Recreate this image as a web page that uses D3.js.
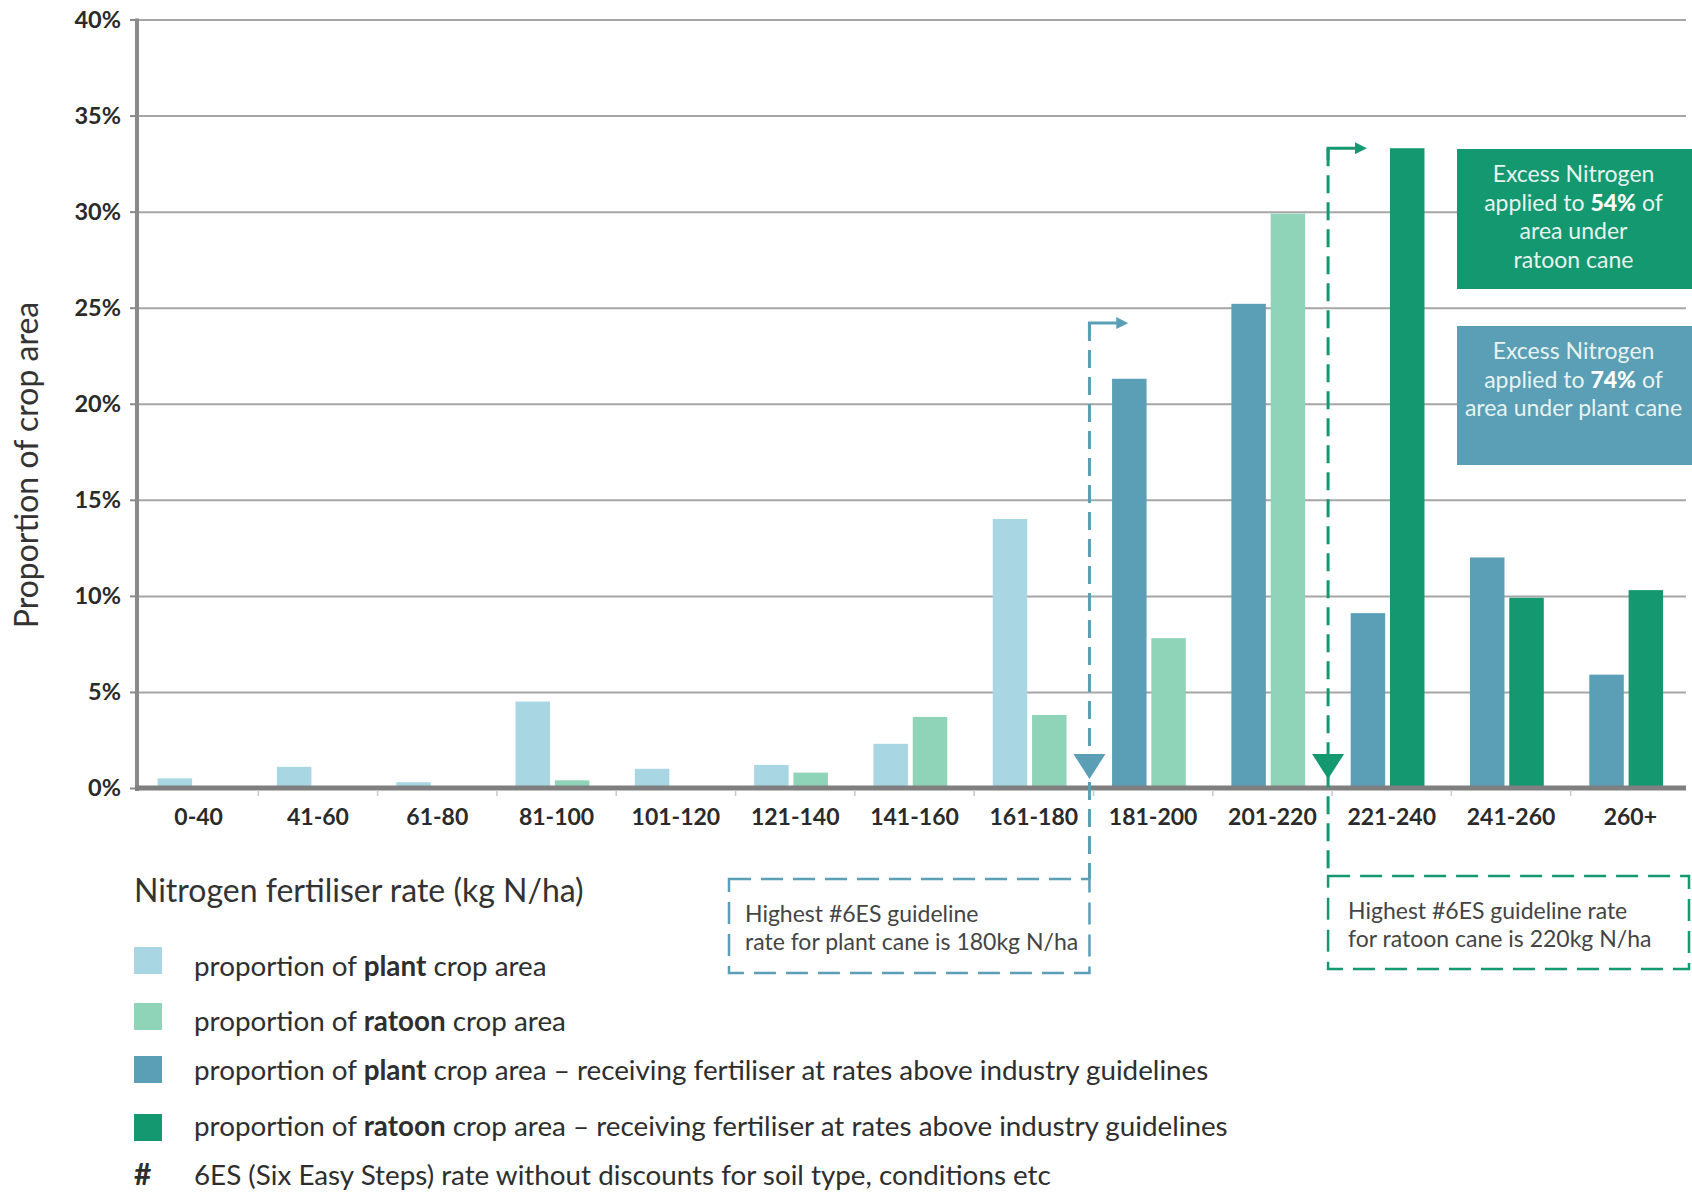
<!DOCTYPE html>
<html>
<head>
<meta charset="utf-8">
<script src="https://cdn.jsdelivr.net/npm/d3@7"></script>
<style>
  html, body { margin: 0; padding: 0; background: #fff; }
  svg { display: block; font-family: Lato, "Open Sans", sans-serif; }
</style>
</head>
<body>
<svg id="chart" width="1692" height="1194"></svg>
<script>
// Nitrogen fertiliser rate bands (kg N/ha)
const categories = ["0-40", "41-60", "61-80", "81-100", "101-120", "121-140", "141-160",
                    "161-180", "181-200", "201-220", "221-240", "241-260", "260+"];
// Proportion of crop area (%) in each band
const plantArea  = [0.5, 1.1, 0.3, 4.5, 1.0, 1.2, 2.3, 14.0, 21.3, 25.2, 9.1, 12.0, 5.9];
const ratoonArea = [0, 0, 0, 0.4, 0, 0.8, 3.7, 3.8, 7.8, 29.9, 33.3, 9.9, 10.3];
// Highest guideline band for each crop (bands after these receive excess N)
const plantLastGuidelineBand  = "161-180";
const ratoonLastGuidelineBand = "201-220";
// Level (%) at which each guideline marker line starts
const plantMarkerTop  = 24.2;
const ratoonMarkerTop = 33.3;
const yTicks = [0, 5, 10, 15, 20, 25, 30, 35, 40];

const colors = {
  plant: "#a9d6e3",
  ratoon: "#8fd4b9",
  plantAbove: "#5a9fb6",
  ratoonAbove: "#14986f"
};

const svg = d3.select("#chart");
const plotLeft = 137, bandLeft = 139, plotRight = 1690;
const plotTop = 19.5, plotBottom = 788;

const x = d3.scaleBand().domain(categories).range([bandLeft, plotRight]).paddingInner(0).paddingOuter(0);
const x1 = d3.scaleBand().domain(["plant", "ratoon"]).range([18.6, 92.4]).paddingInner(0.122).paddingOuter(0);
const y = d3.scaleLinear().domain([0, 40]).range([plotBottom, plotTop]);

const plantCut = categories.indexOf(plantLastGuidelineBand);
const ratoonCut = categories.indexOf(ratoonLastGuidelineBand);

// Gridlines
const grid = svg.append("g")
  .attr("transform", `translate(${plotLeft},0)`)
  .call(d3.axisLeft(y).tickValues(yTicks).tickSize(-(1686 - plotLeft)).tickFormat(""));
grid.select(".domain").remove();
grid.selectAll("line").attr("stroke", "#a6a6a6").attr("stroke-width", 2);

// Bars
const data = categories.map((c, i) => ({ c, i, plant: plantArea[i], ratoon: ratoonArea[i] }));
const groups = svg.append("g").selectAll("g").data(data).join("g")
  .attr("transform", d => `translate(${x(d.c)},0)`);
groups.append("rect")
  .attr("x", x1("plant")).attr("width", x1.bandwidth())
  .attr("y", d => y(d.plant)).attr("height", d => y(0) - y(d.plant))
  .attr("fill", d => d.i > plantCut ? colors.plantAbove : colors.plant);
groups.append("rect")
  .attr("x", x1("ratoon")).attr("width", x1.bandwidth())
  .attr("y", d => y(d.ratoon)).attr("height", d => y(0) - y(d.ratoon))
  .attr("fill", d => d.i > ratoonCut ? colors.ratoonAbove : colors.ratoon);

// Y axis
const yAxis = svg.append("g")
  .attr("transform", `translate(${plotLeft},0)`)
  .call(d3.axisLeft(y).tickValues(yTicks).tickSize(7).tickPadding(9).tickFormat(d => d + "%"));
yAxis.select(".domain").attr("stroke", "#8a8a8a").attr("stroke-width", 4)
  .attr("d", `M0,${plotTop - 1}V${plotBottom + 3}`);
yAxis.selectAll(".tick line").attr("stroke", "#8a8a8a").attr("stroke-width", 2);
yAxis.selectAll(".tick text")
  .attr("font-family", "Lato, sans-serif").attr("font-weight", "bold")
  .attr("font-size", 23.5).attr("fill", "#2a2a2a");

// X axis
const xAxis = svg.append("g")
  .attr("transform", `translate(0,${plotBottom})`)
  .call(d3.axisBottom(x).tickSize(0).tickPadding(21));
xAxis.select(".domain").attr("stroke", "#7f7f7f").attr("stroke-width", 5)
  .attr("d", `M${plotLeft - 2},0H${plotRight - 4}`);
xAxis.selectAll(".tick text")
  .attr("font-family", "Lato, sans-serif").attr("font-weight", "bold")
  .attr("font-size", 23).attr("fill", "#2a2a2a");
// small separators between bands
xAxis.append("g").selectAll("line").data(categories.slice(1)).join("line")
  .attr("x1", d => x(d)).attr("x2", d => x(d)).attr("y1", 2).attr("y2", 8)
  .attr("stroke", "#c8c8c8").attr("stroke-width", 1.5);

// Axis titles
svg.append("text")
  .attr("transform", `translate(38,465) rotate(-90)`)
  .attr("text-anchor", "middle")
  .attr("font-size", 32).attr("fill", "#333")
  .text("Proportion of crop area");
svg.append("text")
  .attr("x", 134).attr("y", 902)
  .attr("font-size", 32).attr("fill", "#333")
  .text("Nitrogen fertiliser rate (kg N/ha)");

// Guideline markers
const defs = svg.append("defs");
function marker(id, color) {
  defs.append("marker").attr("id", id)
    .attr("viewBox", "0 0 10 10").attr("refX", 1).attr("refY", 5)
    .attr("markerWidth", 4).attr("markerHeight", 4).attr("markerUnits", "strokeWidth")
    .attr("orient", "auto")
    .append("path").attr("d", "M0,0L10,5L0,10Z").attr("fill", color);
}
marker("arrowPlant", colors.plantAbove);
marker("arrowRatoon", colors.ratoonAbove);

const guideOffset = -4;
function guideline(cutIndex, topValue, color, markerId, box, textLines, textX) {
  const gx = x(categories[cutIndex + 1]) + guideOffset;
  const g = svg.append("g");
  const dash = "18,9";
  // vertical dashed line from the top elbow down to the note box
  g.append("line")
    .attr("x1", gx).attr("x2", gx)
    .attr("y1", y(topValue)).attr("y2", box.y)
    .attr("stroke", color).attr("stroke-width", 3).attr("stroke-dasharray", dash);
  // elbow pointing to the right
  g.append("path")
    .attr("d", `M${gx},${y(topValue) + 12}V${y(topValue)}H${gx + 28}`)
    .attr("fill", "none").attr("stroke", color).attr("stroke-width", 3)
    .attr("marker-end", `url(#${markerId})`);
  // downward arrowhead just above the axis
  const tip = y(0) - 9;
  g.append("path")
    .attr("d", `M${gx - 16},${tip - 25}L${gx + 16},${tip - 25}L${gx},${tip}Z`)
    .attr("fill", color);
  // dashed note box
  g.append("rect")
    .attr("x", box.x).attr("y", box.y).attr("width", box.w).attr("height", box.h)
    .attr("fill", "none").attr("stroke", color).attr("stroke-width", 2.5)
    .attr("stroke-dasharray", "22,10");
  const t = g.append("text").attr("font-size", 23).attr("fill", "#444");
  textLines.forEach((s, k) => {
    t.append("tspan").attr("x", textX).attr("y", box.y + 43 + k * 28).text(s);
  });
  return gx;
}

const gxPlant = x(categories[plantCut + 1]) + guideOffset;
const gxRatoon = x(categories[ratoonCut + 1]) + guideOffset;
guideline(plantCut, plantMarkerTop, colors.plantAbove, "arrowPlant",
  { x: 729, y: 879, w: gxPlant - 729, h: 94 },
  ["Highest #6ES guideline", "rate for plant cane is 180kg N/ha"], 745);
guideline(ratoonCut, ratoonMarkerTop, colors.ratoonAbove, "arrowRatoon",
  { x: gxRatoon, y: 876, w: 1689 - gxRatoon, h: 93 },
  ["Highest #6ES guideline rate", "for ratoon cane is 220kg N/ha"], gxRatoon + 20);

// Summary boxes
function summaryBox(bx, by, bw, bh, fill, lines) {
  svg.append("rect").attr("x", bx).attr("y", by).attr("width", bw).attr("height", bh).attr("fill", fill);
  const t = svg.append("text").attr("text-anchor", "middle").attr("font-size", 23).attr("fill", "#e8f3f0");
  lines.forEach((parts, k) => {
    const ts = t.append("tspan").attr("x", bx + bw / 2 - 1).attr("y", by + 33 + k * 28.5);
    parts.forEach(p => {
      const s = ts.append("tspan").text(p.t);
      if (p.b) s.attr("font-weight", "900").attr("fill", "#fff");
    });
  });
}
summaryBox(1457, 149, 235, 140, colors.ratoonAbove, [
  [{ t: "Excess Nitrogen" }],
  [{ t: "applied to " }, { t: "54%", b: true }, { t: " of" }],
  [{ t: "area under" }],
  [{ t: "ratoon cane" }]
]);
summaryBox(1457, 326, 235, 139, colors.plantAbove, [
  [{ t: "Excess Nitrogen" }],
  [{ t: "applied to " }, { t: "74%", b: true }, { t: " of" }],
  [{ t: "area under plant cane" }]
]);

// Legend
const legendItems = [
  { color: colors.plant, parts: [["proportion of ", false], ["plant", true], [" crop area", false]] },
  { color: colors.ratoon, parts: [["proportion of ", false], ["ratoon", true], [" crop area", false]] },
  { color: colors.plantAbove, parts: [["proportion of ", false], ["plant", true], [" crop area – receiving fertiliser at rates above industry guidelines", false]] },
  { color: colors.ratoonAbove, parts: [["proportion of ", false], ["ratoon", true], [" crop area – receiving fertiliser at rates above industry guidelines", false]] }
];
const legendY = [947, 1003, 1056, 1114];
const legendBase = [976, 1031, 1080, 1136];
const legend = svg.append("g");
legendItems.forEach((item, i) => {
  legend.append("rect").attr("x", 134).attr("y", legendY[i]).attr("width", 28).attr("height", 27).attr("fill", item.color);
  const t = legend.append("text").attr("x", 194).attr("y", legendBase[i])
    .attr("font-size", 27.8).attr("fill", "#2e2e2e");
  item.parts.forEach(([s, b]) => {
    const ts = t.append("tspan").text(s);
    if (b) ts.attr("font-weight", "bold");
  });
});
legend.append("text").attr("x", 134).attr("y", 1185).attr("font-size", 30)
  .attr("font-weight", "bold").attr("fill", "#2e2e2e").text("#");
legend.append("text").attr("x", 194).attr("y", 1185).attr("font-size", 27.8)
  .attr("fill", "#2e2e2e").text("6ES (Six Easy Steps) rate without discounts for soil type, conditions etc");
</script>
</body>
</html>
